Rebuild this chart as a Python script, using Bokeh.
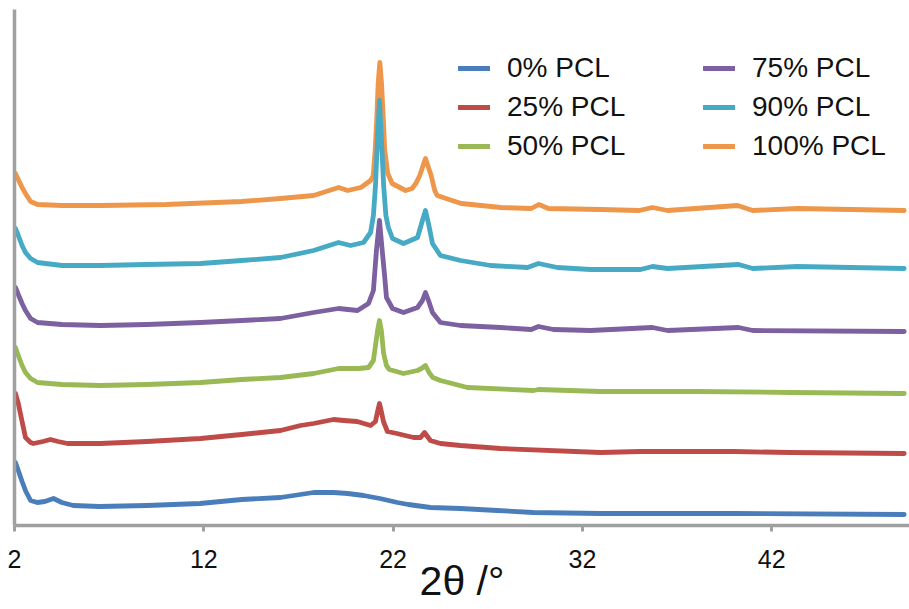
from bokeh.plotting import figure
from bokeh.models import Range1d, FixedTicker, Legend, LegendItem
from bokeh.embed import file_html
from bokeh.resources import INLINE

# ---- data (2theta in degrees, intensity in arbitrary stacked units) ----
x_0 = [2.05, 2.2, 2.4, 2.6, 2.85, 3.2, 3.6, 4.06, 4.5, 5.1, 6.5, 9.0, 11.8, 14.0, 16.05, 17.1, 17.8, 18.85, 19.6, 20.44, 21.3, 22.23, 22.8, 23.97, 25.56, 27.5, 29.4, 33.0, 40.0, 49.0]
y_0 = [63, 55, 44, 34, 25, 23, 24, 27, 23, 20, 19, 20, 22, 26, 28, 31, 33, 33, 32, 30, 27, 23, 21, 18, 17, 15, 13, 12, 12, 11]

x_25 = [2.05, 2.2, 2.4, 2.58, 2.85, 3.0, 3.5, 3.9, 4.3, 4.8, 6.54, 9.0, 11.83, 14.0, 16.05, 17.11, 17.8, 18.85, 19.4, 20.1, 20.81, 21.07, 21.18, 21.28, 21.38, 21.49, 21.7, 22.2, 23.08, 23.45, 23.66, 23.97, 24.5, 25.56, 27.67, 32.96, 35.07, 40.0, 43.0, 49.0]
y_25 = [132, 122, 104, 88, 83, 82, 84, 86, 84, 82, 82, 84, 87, 91, 95, 100, 102, 106, 105, 104, 100, 104, 114, 122, 114, 104, 94, 92, 88, 88, 93, 85, 82, 80, 77, 73, 74, 74, 73, 72]

x_50 = [2.05, 2.2, 2.4, 2.58, 2.85, 3.22, 4.5, 6.54, 9.0, 11.83, 14.0, 16.05, 17.8, 19.12, 20.2, 20.7, 20.96, 21.07, 21.18, 21.28, 21.38, 21.5, 21.65, 21.8, 22.55, 23.29, 23.5, 23.71, 23.9, 24.1, 24.5, 25.93, 29.42, 29.68, 32.96, 38.0, 43.0, 49.0]
y_50 = [178, 170, 160, 153, 147, 143, 141, 140, 141, 143, 146, 148, 152, 157, 157, 158, 165, 180, 195, 205, 195, 172, 160, 156, 152, 155, 157, 160, 153, 148, 145, 138, 135, 136, 134, 134, 133, 132]

x_75 = [2.05, 2.2, 2.4, 2.58, 2.85, 3.22, 4.5, 6.54, 9.0, 11.83, 14.0, 16.05, 17.8, 19.12, 20.12, 20.7, 20.96, 21.12, 21.28, 21.45, 21.55, 21.65, 21.97, 22.55, 23.29, 23.55, 23.71, 23.87, 24.08, 24.5, 25.56, 27.67, 29.3, 29.68, 30.47, 32.43, 35.7, 36.5, 40.25, 41.0, 49.0]
y_75 = [238, 231, 222, 215, 207, 203, 201, 200, 201, 203, 205, 207, 213, 217, 215, 222, 235, 275, 305, 270, 250, 228, 217, 213, 218, 225, 233, 225, 213, 203, 200, 198, 196, 199, 196, 195, 198, 195, 198, 195, 194]

x_90 = [2.05, 2.2, 2.4, 2.58, 2.85, 3.22, 4.5, 6.54, 9.0, 11.83, 14.0, 16.05, 17.8, 19.12, 19.75, 20.44, 20.81, 20.96, 21.07, 21.16, 21.28, 21.4, 21.5, 21.62, 21.75, 21.97, 22.55, 23.29, 23.55, 23.71, 23.87, 24.08, 24.5, 25.56, 27.15, 29.1, 29.68, 30.68, 32.43, 35.07, 35.7, 36.5, 40.25, 41.0, 43.36, 49.0]
y_90 = [297, 290, 280, 273, 267, 263, 260, 260, 261, 262, 265, 268, 275, 283, 280, 283, 293, 310, 340, 380, 425, 380, 340, 310, 298, 287, 282, 288, 305, 315, 302, 282, 270, 265, 260, 258, 262, 258, 256, 256, 259, 257, 261, 257, 259, 257]

x_100 = [2.05, 2.2, 2.4, 2.58, 2.85, 3.22, 4.5, 6.54, 10.0, 14.0, 16.05, 17.8, 19.12, 19.6, 20.3, 20.81, 20.95, 21.05, 21.14, 21.21, 21.3, 21.39, 21.48, 21.56, 21.72, 21.95, 22.66, 23.0, 23.2, 23.41, 23.71, 24.01, 24.2, 24.33, 24.8, 25.6, 27.7, 29.3, 29.7, 30.2, 33.0, 35.0, 35.7, 36.5, 40.2, 41.0, 43.4, 49.0]
y_100 = [352, 346, 338, 332, 324, 321, 320, 320, 321, 324, 327, 330, 338, 335, 338, 345, 350, 375, 408, 442, 463, 442, 408, 375, 352, 342, 335, 337, 342, 350, 367, 350, 335, 330, 327, 322, 318, 317, 321, 317, 316, 315, 318, 315, 320, 315, 317, 315]

labels = ["0% PCL", "25% PCL", "50% PCL", "75% PCL", "90% PCL", "100% PCL"]
colors = ["#4A7EBB", "#BE4B48", "#98B954", "#7D60A0", "#46AAC5", "#EE9649"]
xticks = [2, 12, 22, 32, 42]
xs = [x_0, x_25, x_50, x_75, x_90, x_100]
ys = [y_0, y_25, y_50, y_75, y_90, y_100]

FONT = "Liberation Sans"

p = figure(width=909, height=609, output_backend="svg", toolbar_location=None,
           x_range=Range1d(2, 49.28), y_range=Range1d(0, 516),
           min_border_left=14, min_border_right=0, min_border_top=9, min_border_bottom=84)
p.outline_line_color = None
p.xgrid.visible = False
p.ygrid.visible = False
p.background_fill_color = "white"
p.border_fill_color = "white"

renderers = [None] * 6
for i in reversed(range(6)):
    renderers[i] = p.line(xs[i], ys[i], line_color=colors[i], line_width=4.8,
                          line_join="round", line_cap="round")

ax = p.xaxis[0]
ax.ticker = FixedTicker(ticks=xticks)
ax.axis_line_color = "#A0A0A0"
ax.axis_line_width = 3.5
ax.major_tick_line_color = "#A0A0A0"
ax.major_tick_line_width = 3
ax.major_tick_out = 6
ax.major_tick_in = 0
ax.minor_tick_line_color = None
ax.major_label_text_font = FONT
ax.major_label_text_font_size = "25px"
ax.major_label_text_color = "#111111"
ax.major_label_standoff = 18
ax.axis_label = "2θ /°"
ax.axis_label_text_font = FONT
ax.axis_label_text_font_size = "41px"
ax.axis_label_text_font_style = "normal"
ax.axis_label_text_color = "#111111"
ax.axis_label_standoff = -13

ay = p.yaxis[0]
ay.ticker = FixedTicker(ticks=[])
ay.axis_line_color = "#A0A0A0"
ay.axis_line_width = 3.5
ay.major_tick_line_color = None
ay.minor_tick_line_color = None
ay.major_tick_out = 0
ay.major_tick_in = 0
ay.major_label_text_font_size = "0px"

def make_legend(idx, loc):
    leg = Legend(items=[LegendItem(label=labels[i], renderers=[renderers[i]]) for i in idx],
                 location=loc, orientation="vertical")
    leg.label_text_font = FONT
    leg.label_text_font_size = "28px"
    leg.label_text_color = "#111111"
    leg.glyph_width = 32
    leg.glyph_height = 32
    leg.label_height = 32
    leg.label_standoff = 17
    leg.spacing = 7
    leg.padding = 0
    leg.margin = 0
    leg.border_line_color = None
    leg.background_fill_alpha = 0
    return leg

p.add_layout(make_legend([0, 1, 2], (444, 363)))
p.add_layout(make_legend([3, 4, 5], (689, 363)))

open("out.html", "w").write(file_html(p, INLINE))
